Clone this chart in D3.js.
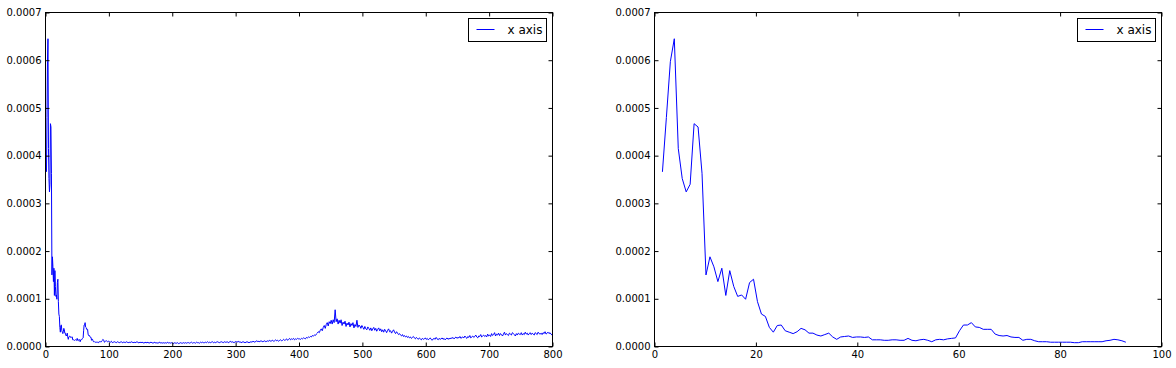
<!DOCTYPE html>
<html>
<head>
<meta charset="utf-8">
<script src="https://cdn.jsdelivr.net/npm/d3@7"></script>
<style>
  html, body { margin: 0; padding: 0; background: #fff; }
  svg { display: block; }
  text { font-family: "DejaVu Sans", sans-serif; }
</style>
</head>
<body>
<svg id="chart" width="1176" height="368"></svg>
<script>
// ---------------- data ----------------
// frequency bins: x = (bin) * freqStep
const freqStep = 0.78125;
const lowFirstBin = 2;
// first 118 bins (x from 1.56 to 92.97), values in units of 1e-6
const lowValuesMicro = [
  366, 480, 597, 645, 415, 352, 324, 340, 467, 460,
  363, 150, 188, 167, 136, 164, 107, 159, 126, 105,
  108, 99, 134, 141, 94, 68, 63, 40, 30, 44,
  45, 33, 30, 27, 31, 38, 35, 28, 28, 24,
  22, 25, 28, 20, 15, 20, 21, 22, 19, 20,
  20, 19, 20, 14, 14, 14, 13, 13, 14, 14,
  13, 13, 17, 13, 12, 14, 15, 13, 10, 14,
  15, 14, 16, 17, 18, 33, 45, 45, 50, 41,
  40, 36, 36, 36, 26, 23, 22, 23, 20, 19,
  19, 13, 15, 15, 12, 10, 10, 10, 9, 9,
  9, 9, 9, 9, 8, 8, 10, 10, 10, 10,
  10, 10, 12, 13, 15, 14, 12, 9
];
// remaining spectrum up to 800 (every second bin, starting at bin 121), units of 1e-6
const tailFirstBin = 121;
const tailBinStride = 2;
const tailValuesMicro = [
  11, 12, 10, 11,
  10, 9, 11, 8, 9, 10, 9, 8, 10, 9, 8, 9, 10, 8, 9, 9,
  8, 10, 9, 8, 9, 8, 10, 9, 8, 9, 8, 9, 10, 8, 8, 9,
  8, 9, 8, 7, 9, 8, 8, 9, 7, 8, 9, 8, 7, 8, 9, 7,
  8, 7, 8, 9, 7, 8, 7, 8, 7, 8, 7, 9, 7, 8, 7, 8,
  7, 6, 8, 7, 7, 8, 6, 7, 8, 7, 7, 8, 7, 8, 7, 8,
  8, 7, 8, 9, 7, 8, 8, 7, 9, 8, 8, 7, 9, 8, 9, 8,
  8, 9, 8, 10, 8, 9, 8, 9, 10, 8, 9, 8, 9, 10, 9, 8,
  9, 10, 9, 8, 10, 9, 9, 10, 8, 9, 11, 9, 10, 9, 8, 10,
  10, 9, 11, 9, 10, 8, 9, 10, 9, 8, 9, 10, 9, 8, 9, 10,
  9, 11, 10, 9, 11, 12, 10, 11, 10, 12, 11, 10, 11, 12, 10, 11,
  12, 11, 13, 11, 12, 13, 11, 12, 14, 12, 13, 11, 13, 14, 12, 13,
  15, 13, 14, 16, 13, 15, 17, 14, 16, 15, 17, 14, 16, 15, 17, 16,
  16, 15, 17, 16, 18, 17, 16, 19, 18, 20, 19, 21, 20, 23, 22, 24, 23, 26, 28,
  31, 29, 34, 37, 33, 40, 44, 38, 46, 50, 43, 52, 48, 55, 47, 56, 50,
  77,
  52, 58, 47, 55, 49, 56, 44, 51, 47, 53, 42, 49, 45, 51, 41, 48, 44, 50, 39, 46, 42, 55, 40, 45, 43, 38, 44,
  40, 36, 42, 37, 35, 41, 38, 34, 39, 33, 37, 40, 34, 38, 32, 36, 39, 33, 37, 31,
  35, 30, 36, 33, 29, 34, 37, 31, 33, 28, 32, 35, 30, 27, 31, 28, 25, 27,
  24, 22, 25, 21, 23, 20, 22, 19, 21, 18, 20, 17, 19, 21, 18, 16, 19, 17, 15, 18, 16, 14, 17, 15, 16, 18,
  15, 17, 14, 16, 18, 15, 13, 16, 17, 15, 19, 16, 14, 17, 15, 16, 18, 15, 17, 14, 16, 18, 15, 17, 16, 18,
  17, 19, 16, 18, 20, 17, 19, 18, 21, 17, 19, 20, 18, 22, 19, 17, 21, 19, 23, 18,
  20, 22, 19, 21, 24, 20, 18, 22, 21, 25, 20, 22, 24, 21, 23, 20, 26, 22,
  24, 21, 27, 23, 25, 29, 22, 26, 24, 28, 23, 27, 25, 22, 26, 30, 24, 27, 25, 23, 28, 26, 24, 29, 27, 25, 22, 27, 24, 28, 26, 25,
  29, 24, 27, 25, 30, 26, 28, 24, 27, 29, 25, 28, 26, 24, 29, 27, 25, 30, 27, 26, 28, 25, 29, 27, 31, 26, 28, 30, 27, 29, 26, 24
];
const seriesName = "x axis";
const yTicks = [0, 0.0001, 0.0002, 0.0003, 0.0004, 0.0005, 0.0006, 0.0007];
const leftXTicks = [0, 100, 200, 300, 400, 500, 600, 700, 800];
const rightXTicks = [0, 20, 40, 60, 80, 100];
const leftXDomain = [0, 800];
const rightXDomain = [0, 100];
const yDomain = [0, 0.0007];

// build point lists
const lowPoints = lowValuesMicro.map((v, i) => ({ x: (lowFirstBin + i) * freqStep, y: v / 1e6 }));
const tailPoints = tailValuesMicro.map((v, k) => ({ x: (tailFirstBin + k * tailBinStride) * freqStep, y: v / 1e6 }));
const fullPoints = lowPoints.concat(tailPoints);

// ---------------- drawing ----------------
const svg = d3.select("#chart");
const panelTop = 12.5, panelBottom = 346.5, panelWidth = 507;
const panels = [
  { left: 45.5, domain: leftXDomain, ticks: leftXTicks, data: fullPoints },
  { left: 654.5, domain: rightXDomain, ticks: rightXTicks, data: lowPoints }
];

panels.forEach(p => {
  const right = p.left + panelWidth;
  const x = d3.scaleLinear().domain(p.domain).range([p.left, right]);
  const y = d3.scaleLinear().domain(yDomain).range([panelBottom, panelTop]);
  const g = svg.append("g");

  // data line
  const clipId = "clip" + Math.round(p.left);
  svg.append("clipPath").attr("id", clipId)
    .append("rect").attr("x", p.left).attr("y", panelTop)
    .attr("width", panelWidth).attr("height", panelBottom - panelTop);
  g.append("path")
    .datum(p.data)
    .attr("clip-path", `url(#${clipId})`)
    .attr("fill", "none")
    .attr("stroke", "#0000ff")
    .attr("stroke-width", 1)
    .attr("stroke-linejoin", "round")
    .attr("d", d3.line().x(d => x(d.x)).y(d => y(d.y)));

  const styleAxis = sel => {
    sel.select(".domain").remove();
    sel.selectAll(".tick line").attr("stroke", "#000");
    sel.selectAll(".tick text").attr("fill", "#000").style("font-size", "10px")
      .style("font-family", "DejaVu Sans, sans-serif");
  };

  g.append("g").attr("transform", `translate(0,${panelBottom})`)
    .call(d3.axisBottom(x).tickValues(p.ticks).tickFormat(d3.format("d"))
      .tickSizeInner(-4).tickSizeOuter(0).tickPadding(4))
    .call(styleAxis);
  g.append("g").attr("transform", `translate(0,${panelTop})`)
    .call(d3.axisTop(x).tickValues(p.ticks).tickFormat("")
      .tickSizeInner(-4).tickSizeOuter(0))
    .call(styleAxis);
  g.append("g").attr("transform", `translate(${p.left},0)`)
    .call(d3.axisLeft(y).tickValues(yTicks).tickFormat(d3.format(".4f"))
      .tickSizeInner(-4).tickSizeOuter(0).tickPadding(4))
    .call(styleAxis);
  g.append("g").attr("transform", `translate(${right},0)`)
    .call(d3.axisRight(y).tickValues(yTicks).tickFormat("")
      .tickSizeInner(-4).tickSizeOuter(0))
    .call(styleAxis);

  // frame
  g.append("rect")
    .attr("x", p.left).attr("y", panelTop)
    .attr("width", panelWidth).attr("height", panelBottom - panelTop)
    .attr("fill", "none").attr("stroke", "#000").attr("stroke-width", 1);

  // legend
  const lx = right - 84, ly = panelTop + 6;
  const lg = g.append("g");
  lg.append("rect").attr("x", lx).attr("y", ly).attr("width", 78).attr("height", 23)
    .attr("fill", "#fff").attr("stroke", "#000").attr("stroke-width", 1);
  lg.append("line").attr("x1", lx + 8).attr("x2", lx + 26)
    .attr("y1", ly + 11).attr("y2", ly + 11)
    .attr("stroke", "#0000ff").attr("stroke-width", 1);
  lg.append("text").attr("x", lx + 39).attr("y", ly + 15.5)
    .style("font-size", "12px").attr("fill", "#000").text(seriesName);
});
</script>
</body>
</html>
